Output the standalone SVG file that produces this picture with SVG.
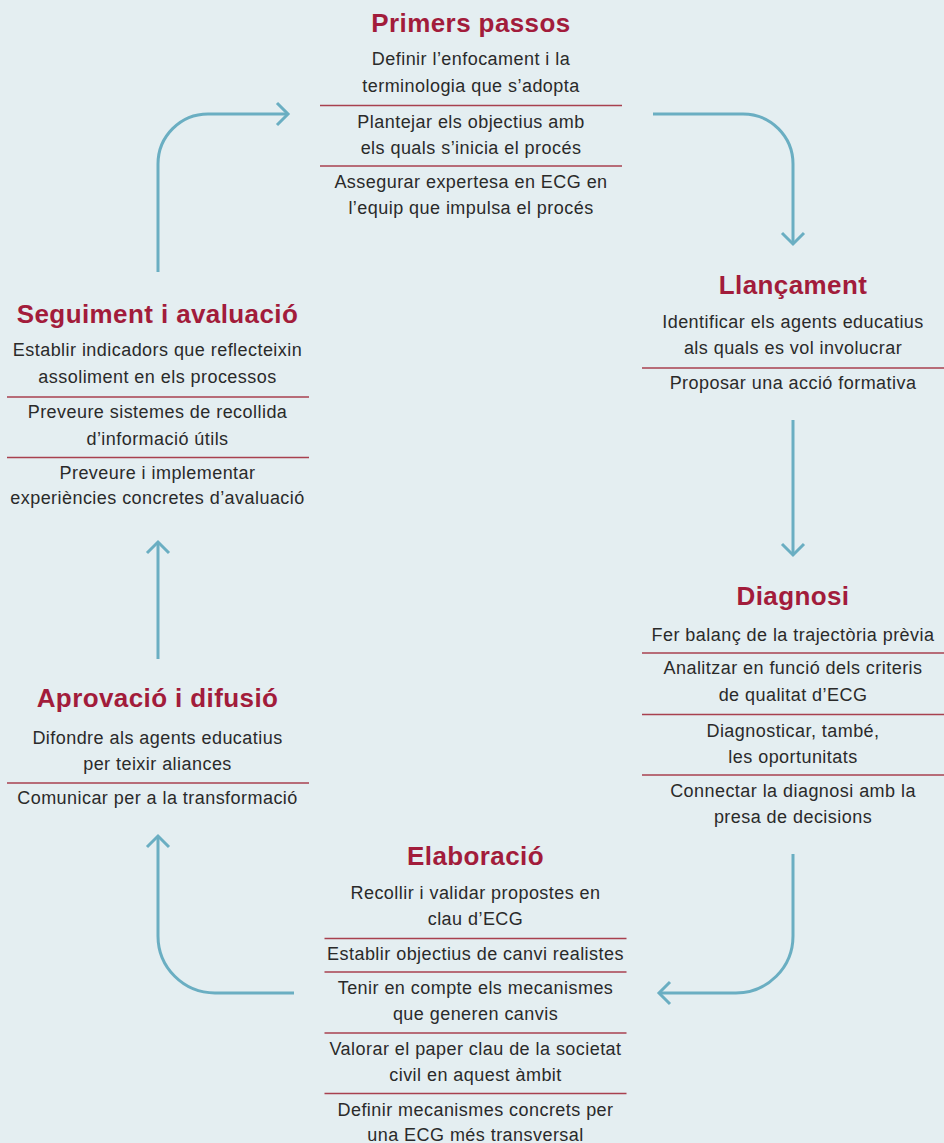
<svg xmlns="http://www.w3.org/2000/svg" width="944" height="1143" viewBox="0 0 944 1143">
<defs>
<marker id="chev" markerUnits="userSpaceOnUse" markerWidth="30" markerHeight="30" refX="0" refY="0" viewBox="-15 -15 30 30" orient="auto" overflow="visible">
<path d="M-11,-11 L0,0 L-11,11" fill="none" stroke="#6AAEC2" stroke-width="3" stroke-linejoin="miter"/>
</marker>
<style>
.t{font-family:"Liberation Sans",Arial,sans-serif;font-weight:bold;font-size:26px;letter-spacing:0.4px;fill:#A21C3B;text-anchor:middle}
.b{font-family:"Liberation Sans",Arial,sans-serif;font-size:18px;letter-spacing:0.45px;fill:#2A2A2A;text-anchor:middle}
.s{stroke:#A8404F;stroke-width:1.3;fill:none}
.c{stroke:#6AAEC2;stroke-width:3;fill:none;marker-end:url(#chev)}
</style>
</defs>
<rect width="944" height="1143" fill="#E4EEF1"/>
<g id="connectors">
<path class="c" d="M158,272 V164 A50,50 0 0 1 208,114 H288"/>
<path class="c" d="M653,114 H743 A50,50 0 0 1 793,164 V244"/>
<path class="c" d="M793,420 V555"/>
<path class="c" d="M793,854 V936 A57,57 0 0 1 736,993 H659"/>
<path class="c" d="M294,993 H215 A57,57 0 0 1 158,936 V836"/>
<path class="c" d="M158,659 V542"/>
</g>
<g id="primers-passos">
<text class="t" x="471" y="32">Primers passos</text>
<text class="b" x="471" y="65">Definir l’enfocament i la</text>
<text class="b" x="471" y="92">terminologia que s’adopta</text>
<line class="s" x1="320" y1="105.5" x2="622" y2="105.5"/>
<text class="b" x="471" y="128">Plantejar els objectius amb</text>
<text class="b" x="471" y="154">els quals s’inicia el procés</text>
<line class="s" x1="320" y1="166" x2="622" y2="166"/>
<text class="b" x="471" y="188">Assegurar expertesa en ECG en</text>
<text class="b" x="471" y="214">l’equip que impulsa el procés</text>
</g>
<g id="llancament">
<text class="t" x="793" y="294">Llançament</text>
<text class="b" x="793" y="328">Identificar els agents educatius</text>
<text class="b" x="793" y="354">als quals es vol involucrar</text>
<line class="s" x1="642" y1="368" x2="944" y2="368"/>
<text class="b" x="793" y="389">Proposar una acció formativa</text>
</g>
<g id="diagnosi">
<text class="t" x="793" y="605">Diagnosi</text>
<text class="b" x="793" y="641">Fer balanç de la trajectòria prèvia</text>
<line class="s" x1="642" y1="653" x2="944" y2="653"/>
<text class="b" x="793" y="674">Analitzar en funció dels criteris</text>
<text class="b" x="793" y="700.5">de qualitat d’ECG</text>
<line class="s" x1="642" y1="714.5" x2="944" y2="714.5"/>
<text class="b" x="793" y="736.5">Diagnosticar, també,</text>
<text class="b" x="793" y="762.5">les oportunitats</text>
<line class="s" x1="642" y1="775" x2="944" y2="775"/>
<text class="b" x="793" y="797">Connectar la diagnosi amb la</text>
<text class="b" x="793" y="823">presa de decisions</text>
</g>
<g id="elaboracio">
<text class="t" x="475.5" y="865">Elaboració</text>
<text class="b" x="475.5" y="899">Recollir i validar propostes en</text>
<text class="b" x="475.5" y="925">clau d’ECG</text>
<line class="s" x1="324.5" y1="938.5" x2="626.5" y2="938.5"/>
<text class="b" x="475.5" y="960">Establir objectius de canvi realistes</text>
<line class="s" x1="324.5" y1="972" x2="626.5" y2="972"/>
<text class="b" x="475.5" y="994">Tenir en compte els mecanismes</text>
<text class="b" x="475.5" y="1020">que generen canvis</text>
<line class="s" x1="324.5" y1="1033" x2="626.5" y2="1033"/>
<text class="b" x="475.5" y="1055">Valorar el paper clau de la societat</text>
<text class="b" x="475.5" y="1081">civil en aquest àmbit</text>
<line class="s" x1="324.5" y1="1093.5" x2="626.5" y2="1093.5"/>
<text class="b" x="475.5" y="1116">Definir mecanismes concrets per</text>
<text class="b" x="475.5" y="1141">una ECG més transversal</text>
</g>
<g id="aprovacio-difusio">
<text class="t" x="157.5" y="707">Aprovació i difusió</text>
<text class="b" x="157.5" y="744">Difondre als agents educatius</text>
<text class="b" x="157.5" y="770">per teixir aliances</text>
<line class="s" x1="7" y1="783" x2="309" y2="783"/>
<text class="b" x="157.5" y="804">Comunicar per a la transformació</text>
</g>
<g id="seguiment-avaluacio">
<text class="t" x="157.5" y="323">Seguiment i avaluació</text>
<text class="b" x="157.5" y="355.5">Establir indicadors que reflecteixin</text>
<text class="b" x="157.5" y="383">assoliment en els processos</text>
<line class="s" x1="7" y1="397" x2="309" y2="397"/>
<text class="b" x="157.5" y="418">Preveure sistemes de recollida</text>
<text class="b" x="157.5" y="445">d’informació útils</text>
<line class="s" x1="7" y1="457.5" x2="309" y2="457.5"/>
<text class="b" x="157.5" y="479">Preveure i implementar</text>
<text class="b" x="157.5" y="504">experiències concretes d’avaluació</text>
</g>
</svg>
